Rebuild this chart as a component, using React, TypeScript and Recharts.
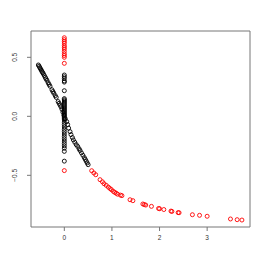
import { ScatterChart, Scatter, XAxis, YAxis, ReferenceArea } from "recharts";

// values
const curveX = [
  -0.546, -0.53, -0.515, -0.5, -0.485, -0.47, -0.455, -0.44, -0.42, -0.4, -0.385, -0.365,
  -0.34, -0.32, -0.3, -0.26, -0.24, -0.22, -0.19, -0.17, -0.13, -0.11, -0.09, -0.07, -0.05,
  -0.03, -0.01, 0.02, 0.05, 0.07, 0.09, 0.12, 0.14, 0.17, 0.19, 0.22, 0.25, 0.28, 0.31, 0.33,
  0.36, 0.39, 0.42, 0.44, 0.46, 0.48, 0.5,
];
const curveY = [
  0.435, 0.425, 0.413, 0.402, 0.392, 0.38, 0.37, 0.36, 0.345, 0.33, 0.318, 0.305, 0.285, 0.27,
  0.255, 0.225, 0.21, 0.195, 0.175, 0.16, 0.125, 0.11, 0.095, 0.08, 0.06, 0.035, 0.01, -0.02,
  -0.045, -0.07, -0.1, -0.13, -0.155, -0.18, -0.2, -0.22, -0.24, -0.255, -0.275, -0.29, -0.31,
  -0.33, -0.35, -0.365, -0.38, -0.395, -0.41,
];
const columnBlackY = [
  0.35, 0.335, 0.32, 0.3, 0.29, 0.217, 0.15, 0.14, 0.13, 0.12, 0.11, 0.1, 0.09, 0.08, 0.07, 0.06,
  0.05, 0.04, 0.03, 0.02, 0.01, 0, -0.01, -0.02, -0.03, -0.05, -0.07, -0.09, -0.11, -0.13, -0.15,
  -0.17, -0.19, -0.21, -0.23, -0.25, -0.27, -0.297, -0.38,
];
const columnRedY = [0.666, 0.65, 0.635, 0.62, 0.6, 0.585, 0.57, 0.55, 0.53, 0.515, 0.5, 0.449, -0.46];
const tailX = [
  0.575, 0.62, 0.66, 0.75, 0.8, 0.834, 0.88, 0.925, 0.96, 0.99, 1.03, 1.06, 1.09, 1.12, 1.18,
  1.21, 1.38, 1.44, 1.65, 1.68, 1.71, 1.83, 1.98, 2.0, 2.09, 2.24, 2.26, 2.39, 2.41, 2.69, 2.84,
  3.0, 3.49, 3.63, 3.73,
];
const tailY = [
  -0.461, -0.48, -0.495, -0.537, -0.555, -0.571, -0.585, -0.6, -0.612, -0.622, -0.636, -0.645,
  -0.652, -0.66, -0.668, -0.672, -0.707, -0.715, -0.743, -0.748, -0.752, -0.763, -0.781, -0.783,
  -0.79, -0.803, -0.806, -0.816, -0.817, -0.834, -0.839, -0.847, -0.87, -0.876, -0.879,
];
const xTicks = [0, 1, 2, 3];
const yTicks = [-0.5, 0, 0.5];
const xDomain = [-0.7, 3.9];
const yDomain = [-0.938, 0.723];

const blackData = [
  ...curveX.map((x, i) => ({ x, y: curveY[i] })),
  ...columnBlackY.map((y) => ({ x: 0, y })),
];
const redData = [
  ...columnRedY.map((y) => ({ x: 0, y })),
  ...tailX.map((x, i) => ({ x, y: tailY[i] })),
];

const ring = (color: string) => (props: any) => (
  <circle cx={props.cx} cy={props.cy} r={2} fill="none" stroke={color} strokeWidth={0.9} />
);

const YTick = ({ x, y, payload }: any) => (
  <text
    x={x - 8}
    y={y}
    transform={`rotate(-90 ${x - 8} ${y})`}
    textAnchor="middle"
    fontSize={6.5}
    fill="#333"
  >
    {payload.value === 0 ? "0.0" : payload.value.toFixed(1).replace("-", "\u2212")}
  </text>
);

export default function App() {
  return (
    <div style={{ position: "absolute", left: 0, top: 0, background: "#fff", fontFamily: "'Liberation Sans', Arial, sans-serif" }}>
      <ScatterChart width={266} height={266} margin={{ top: 31, right: 16, bottom: 0, left: 0 }}>
        <XAxis
          type="number"
          dataKey="x"
          domain={xDomain}
          ticks={xTicks}
          allowDataOverflow
          height={39}
          axisLine={false}
          tickLine={{ stroke: "#777" }}
          tickSize={4}
          tick={{ fontSize: 6.5, fill: "#333", dy: 2 }}
        />
        <YAxis
          type="number"
          dataKey="y"
          domain={yDomain}
          ticks={yTicks}
          allowDataOverflow
          width={31}
          axisLine={false}
          tickLine={{ stroke: "#777" }}
          tickSize={4}
          tick={<YTick />}
        />
        <ReferenceArea
          x1={xDomain[0]}
          x2={xDomain[1]}
          y1={yDomain[0]}
          y2={yDomain[1]}
          fill="none"
          stroke="#777"
          strokeWidth={1}
          fillOpacity={0}
        />
        <Scatter data={blackData} shape={ring("#000")} isAnimationActive={false} />
        <Scatter data={redData} shape={ring("#ff0000")} isAnimationActive={false} />
      </ScatterChart>
    </div>
  );
}
